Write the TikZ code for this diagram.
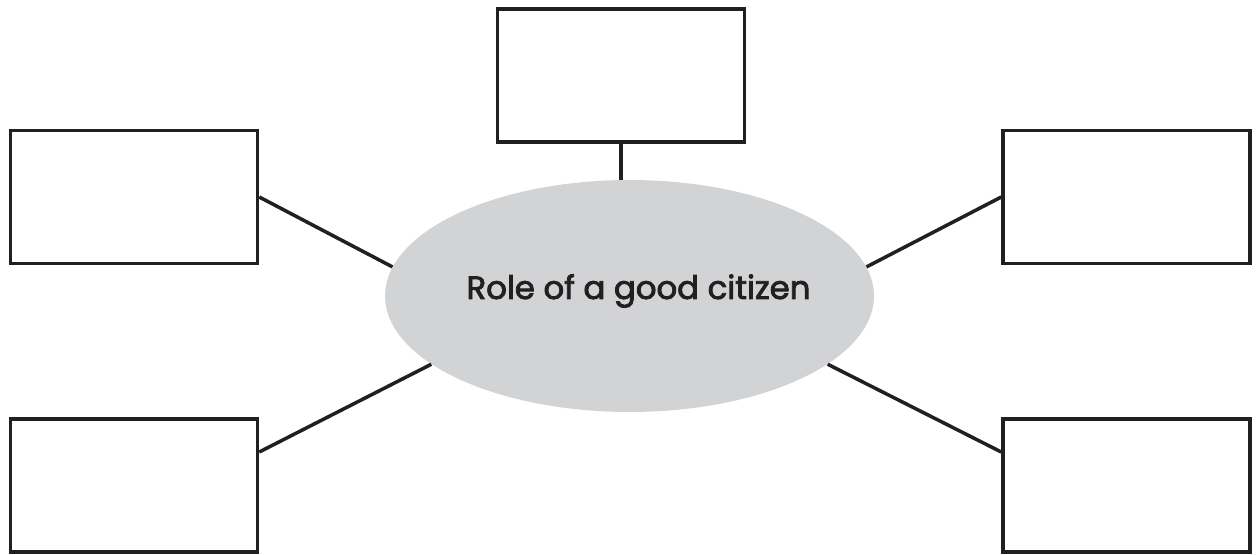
\documentclass[tikz,border=0pt]{standalone}
\usepackage{fontspec}
\newfontfamily\titlefont{Poppins}[FakeBold=2.5]
\usepackage{tikz}
\usetikzlibrary{positioning,shapes.geometric}
\definecolor{inkgray}{HTML}{231F20}
\definecolor{bubblegray}{HTML}{D1D3D4}
\tikzset{
  emptybox/.style={rectangle, draw=inkgray, line width=2pt, fill=white, minimum width=4.94cm, minimum height=2.66cm, inner sep=0pt},
  centerbubble/.style={ellipse, fill=bubblegray, minimum width=9.78cm, minimum height=4.64cm, inner sep=0pt},
  spoke/.style={draw=inkgray, line width=2pt},
}

\begin{document}
\begin{tikzpicture}[x=0.02cm, y=-0.02cm]
\useasboundingbox (0,0) rectangle (1256,554);
%Nodes
\node[centerbubble] (citizen) at (629.5,296) {};
\node[font=\titlefont\fontsize{18.4}{22}\selectfont, text=inkgray] (title) at (638.5,291) {Role of a good citizen};
\node[emptybox] (top) at (621,75.5) {};
\node[emptybox] (upleft) at (134,197) {};
\node[emptybox] (upright) at (1126.5,197) {};
\node[emptybox] (lowleft) at (134,485.5) {};
\node[emptybox] (lowright) at (1126.5,485.5) {};

%Lines
\draw[spoke] (top.south) -- (top.south |- citizen.north);
\draw[spoke] (upleft.east) -- (citizen.173);
\draw[spoke] (upright.west) -- (citizen.7);
\draw[spoke] ([yshift=0.67cm]lowleft.east) -- (citizen.199);
\draw[spoke] ([yshift=0.67cm]lowright.west) -- (citizen.341);
\end{tikzpicture}
\end{document}
